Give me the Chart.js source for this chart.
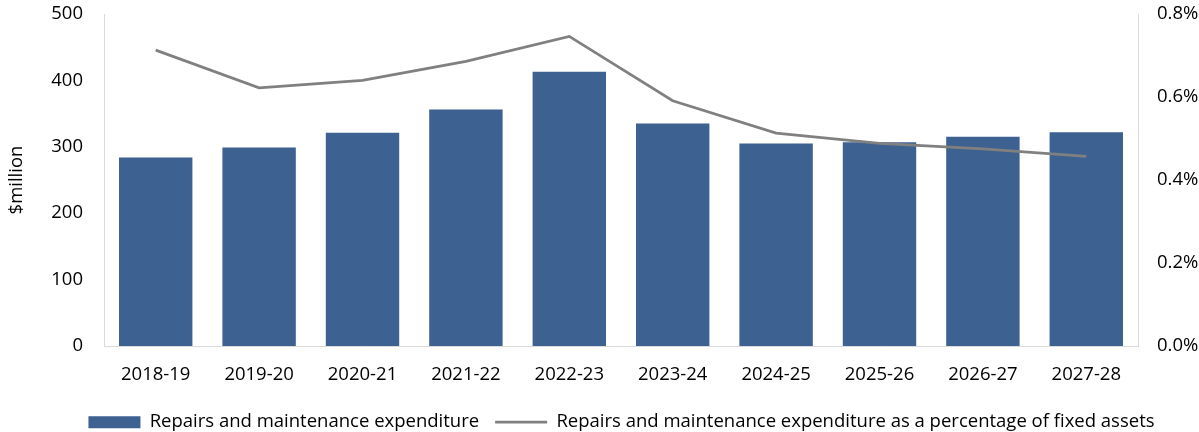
<!DOCTYPE html>
<html>
<head>
<meta charset="utf-8">
<script src="https://cdn.jsdelivr.net/npm/chart.js@4"></script>
<style>
  html, body { margin: 0; padding: 0; background: #fff; }
  #wrap { width: 1199px; height: 432px; }
</style>
</head>
<body>
<div id="wrap"><canvas id="repairsChart"></canvas></div>
<script>
const years = ["2018-19", "2019-20", "2020-21", "2021-22", "2022-23", "2023-24", "2024-25", "2025-26", "2026-27", "2027-28"];
const expenditure = [284, 299, 321, 356, 413, 335, 305, 307, 315, 322];
const pctFixedAssets = [0.713, 0.622, 0.640, 0.686, 0.746, 0.591, 0.513, 0.488, 0.475, 0.457];
const leftTicks = [0, 100, 200, 300, 400, 500];
const rightTicks = [0, 0.2, 0.4, 0.6, 0.8];

const fontFamily = "'Open Sans', sans-serif";
const fontSize = 18.5;
const textColor = "#000";
const axisColor = "#d9d9d9";
const plotTop = 14;
const plotBottom = 346;
const legendCenterY = 424;
const legendShiftX = 22;

// keeps the legend row at a fixed height under the axis labels
const legendPlacer = {
    id: "legendPlacer",
    afterLayout(chart) {
        const lg = chart.legend;
        if (!lg) return;
        const pad = lg.options.labels.padding;
        const top = legendCenterY - pad - fontSize * 0.6;
        const dy = top - lg.top;
        lg.top += dy;
        lg.bottom += dy;
        lg.left += legendShiftX;
        lg.right += legendShiftX;
    }
};

const ctx = document.getElementById("repairsChart");

if (ctx) {
    new Chart(ctx, {
        data: {
            labels: years,
            datasets: [
                {
                    type: "line",
                    label: "Repairs and maintenance expenditure as a percentage of fixed assets",
                    data: pctFixedAssets,
                    yAxisID: "y1",
                    borderColor: "#808080",
                    backgroundColor: "#808080",
                    borderWidth: 2.75,
                    pointRadius: 0,
                    tension: 0,
                    order: 0
                },
                {
                    type: "bar",
                    label: "Repairs and maintenance expenditure",
                    data: expenditure,
                    yAxisID: "y",
                    backgroundColor: "#3d6190",
                    borderWidth: 0,
                    categoryPercentage: 0.71,
                    barPercentage: 1,
                    order: 1
                }
            ]
        },
        plugins: [legendPlacer],
        options: {
            responsive: true,
            maintainAspectRatio: false,
            animation: false,
            layout: { padding: 0 },
            plugins: {
                tooltip: { enabled: false },
                legend: {
                    position: "bottom",
                    reverse: true,
                    labels: {
                        usePointStyle: true,
                        pointStyleWidth: 52,
                        boxHeight: 12,
                        padding: 16,
                        color: textColor,
                        font: { family: fontFamily, size: fontSize },
                        generateLabels(chart) {
                            const items = Chart.defaults.plugins.legend.labels.generateLabels(chart);
                            items.forEach(item => {
                                const ds = chart.data.datasets[item.datasetIndex];
                                if (ds.type === "line") {
                                    item.pointStyle = "line";
                                    item.lineWidth = 2.75;
                                    item.strokeStyle = "#808080";
                                } else {
                                    item.pointStyle = "rect";
                                    item.lineWidth = 0;
                                }
                            });
                            return items;
                        }
                    }
                }
            },
            scales: {
                x: {
                    grid: { display: false, drawTicks: false },
                    border: { color: axisColor, width: 1 },
                    ticks: {
                        color: textColor,
                        padding: 18,
                        maxRotation: 0,
                        font: { family: fontFamily, size: fontSize }
                    },
                    afterFit(scale) {
                        const lg = scale.chart.legend;
                        scale.height = 432 - plotBottom - (lg ? lg.height : 0);
                    }
                },
                y: {
                    position: "left",
                    min: 0,
                    max: 500,
                    grid: { display: false, drawTicks: false },
                    border: { color: axisColor, width: 1 },
                    afterBuildTicks(scale) { scale.ticks = leftTicks.map(v => ({ value: v })); },
                    ticks: {
                        color: textColor,
                        padding: 21,
                        font: { family: fontFamily, size: fontSize }
                    },
                    title: {
                        display: true,
                        text: "$million",
                        color: textColor,
                        padding: { top: 6, bottom: 0 },
                        font: { family: fontFamily, size: fontSize }
                    },
                    afterFit(scale) {
                        scale.width = 104;
                        scale.paddingTop = plotTop;
                        scale.paddingBottom = 0;
                    }
                },
                y1: {
                    position: "right",
                    min: 0,
                    max: 0.8,
                    grid: { display: false, drawTicks: false },
                    border: { color: axisColor, width: 1 },
                    afterBuildTicks(scale) { scale.ticks = rightTicks.map(v => ({ value: v })); },
                    ticks: {
                        color: textColor,
                        padding: 19,
                        font: { family: fontFamily, size: fontSize },
                        callback: v => v.toFixed(1) + "%"
                    },
                    afterFit(scale) {
                        scale.width = 61;
                        scale.paddingTop = plotTop;
                        scale.paddingBottom = 0;
                    }
                }
            }
        }
    });
}
</script>
</body>
</html>
